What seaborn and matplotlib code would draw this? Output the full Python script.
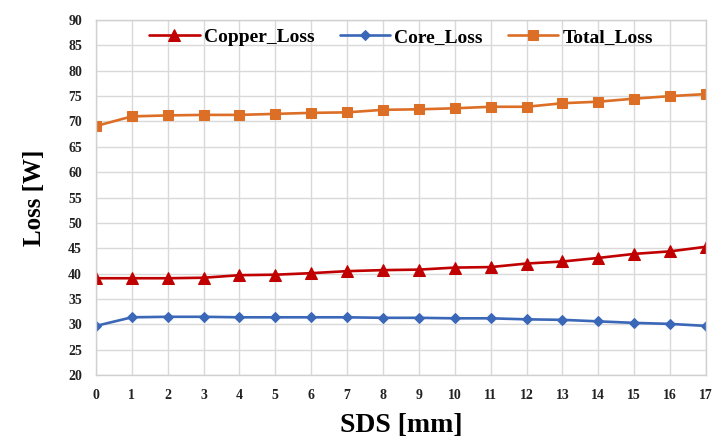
import pandas as pd
import matplotlib
matplotlib.use('Agg')
import matplotlib.pyplot as plt
import seaborn as sns

sds_mm = list(range(18))
copper_loss = [39.1, 39.1, 39.1, 39.2, 39.7, 39.8, 40.1, 40.5, 40.7, 40.8,
               41.2, 41.3, 42.0, 42.4, 43.1, 43.9, 44.4, 45.3]
core_loss = [29.7, 31.4, 31.5, 31.5, 31.4, 31.4, 31.4, 31.4, 31.3, 31.3,
             31.2, 31.2, 31.0, 30.9, 30.6, 30.3, 30.1, 29.7]
total_loss = [69.1, 71.0, 71.2, 71.3, 71.3, 71.5, 71.7, 71.8, 72.3, 72.4,
              72.6, 72.9, 72.9, 73.6, 73.9, 74.5, 75.0, 75.4]

series_names = ['Copper_Loss', 'Core_Loss', 'Total_Loss']
colors = {'Copper_Loss': '#C00000', 'Core_Loss': '#3A67B8', 'Total_Loss': '#DC6E26'}
markers = {'Copper_Loss': '^', 'Core_Loss': 'D', 'Total_Loss': 's'}
marker_sizes = {'Copper_Loss': 8, 'Core_Loss': 5.5, 'Total_Loss': 7.5}

#-------------------------------------------------
# long-form data
data_df = pd.DataFrame({
    'SDS': sds_mm * 3,
    'Loss': copper_loss + core_loss + total_loss,
    'Series': [s for s in series_names for _ in sds_mm],
})

sns.set_theme(style='whitegrid')
plt.rcParams['font.family'] = ['Liberation Serif', 'DejaVu Serif']
plt.rcParams['text.color'] = 'black'
plt.rcParams['axes.labelcolor'] = 'black'
plt.rcParams['xtick.color'] = 'black'
plt.rcParams['ytick.color'] = 'black'

fig, ax = plt.subplots(figsize=(7.16, 4.45), dpi=100)
fig.subplots_adjust(left=0.134, right=0.986, top=0.955, bottom=0.157)

for s in series_names:
    sns.lineplot(data=data_df[data_df.Series == s], x='SDS', y='Loss', ax=ax,
                 color=colors[s], marker=markers[s], markersize=marker_sizes[s],
                 markeredgecolor=colors[s], linewidth=1.9, label=s)

ax.set_xlim(0, 17)
ax.set_ylim(20, 90)
ax.set_xticks(sds_mm)
ax.set_yticks(range(20, 91, 5))
ax.grid(True, color='#D9D9D9', linewidth=1.0)
for sp in ax.spines.values():
    sp.set_color('#D0D0D0')
    sp.set_linewidth(1.0)
ax.tick_params(axis='both', length=0, labelsize=10, pad=10)
for lbl in ax.get_xticklabels() + ax.get_yticklabels():
    lbl.set_fontweight('bold')
    lbl.set_color('#222222')

ax.set_xlabel('SDS [mm]', fontsize=20, fontweight='bold', labelpad=8)
ax.set_ylabel('Loss [W]', fontsize=18, fontweight='bold', labelpad=16)

leg = ax.legend(loc='upper center', bbox_to_anchor=(0.5, 1.025), ncol=3, frameon=False,
                prop={'weight': 'bold', 'size': 14}, handlelength=2.6,
                columnspacing=1.3, handletextpad=0.2)

plt.savefig('out.png', dpi=100)
